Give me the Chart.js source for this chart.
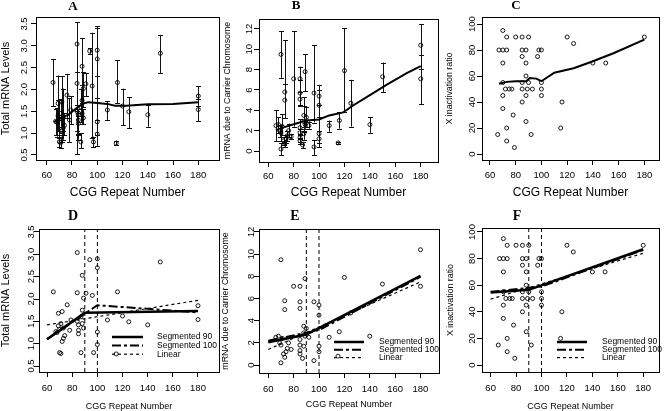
<!DOCTYPE html>
<html><head><meta charset="utf-8">
<script src="https://cdn.jsdelivr.net/npm/chart.js@4.4.1/dist/chart.umd.min.js"></script>
<style>
html,body{margin:0;padding:0;background:#fff;}
body{width:664px;height:411px;overflow:hidden;position:relative;}
canvas{position:absolute;left:0;top:0;}
</style></head><body>
<script>
// ---------- data ----------
const tickX = [60, 80, 100, 120, 140, 160, 180];
const tickTotal = [0.5, 1.0, 1.5, 2.0, 2.5, 3.0, 3.5];
const tickTotalLabels = ['0.5', '1.0', '1.5', '2.0', '2.5', '3.0', '3.5'];
const tickCarrier = [0, 2, 4, 6, 8, 10, 12];
const tickRatio = [0, 20, 40, 60, 80, 100];

// Panel A / D : total mRNA levels
const cggA = [65,67,68,69,69,70,70,71,71,72,72,73,73,74,76,78,79,84,84,84,85,85,85,87,87,88,88,88,89,89,91,94,96,97,100,100,100,100,108,115,116,120,125,140,150,180,180];
const totalMrna = [2.16,1.27,1.25,1.68,1.40,0.80,1.32,0.78,1.45,1.72,1.05,1.12,1.35,1.18,1.87,1.30,1.53,3.04,2.14,1.50,1.42,1.30,1.22,0.80,1.60,2.53,1.75,1.45,2.02,1.35,2.13,2.88,2.08,0.80,2.90,2.70,1.26,0.98,1.53,0.77,2.16,1.62,1.49,1.42,2.83,1.85,1.54];
const totalLo = [1.62,0.95,0.92,1.10,1.05,0.68,0.90,0.65,1.15,1.00,0.80,0.85,1.05,0.95,1.35,0.80,1.20,0.52,1.50,1.05,0.95,0.85,0.98,0.65,1.25,1.20,1.40,1.22,1.60,1.20,1.85,2.82,0.90,0.68,0.95,2.30,0.70,0.70,1.30,0.72,1.68,1.18,1.12,1.15,2.38,1.62,1.28];
const totalHi = [2.70,1.55,1.58,2.32,1.75,0.95,1.75,0.92,1.78,2.30,1.30,1.40,2.02,1.45,2.35,1.80,1.85,3.54,2.40,1.65,1.55,1.40,1.45,1.00,2.00,3.18,2.10,1.70,2.40,1.55,2.38,2.95,3.30,0.92,3.45,3.40,1.80,1.30,1.73,0.83,2.67,2.02,1.82,1.65,3.25,2.07,1.78];

// Panel B / E : mRNA due to carrier chromosome
const cggB = [66,68,69,70,70,70,71,72,73,73,73,74,75,76,78,80,85,85,85,85,85,85,85,87,88,88,88,89,89,90,92,96,96,100,100,100,100,108,115,116,120,125,140,150,180,180];
const carrierMrna = [2.5,2.6,2.0,9.5,0.2,1.8,2.4,1.0,5.8,5.0,0.7,1.2,1.5,2.0,1.4,7.1,7.1,5.7,5.1,2.3,1.8,1.3,1.0,0.6,3.5,2.9,1.7,7.8,2.6,3.3,2.5,5.7,0.4,5.4,4.5,1.7,1.2,2.5,0.8,3.0,7.9,4.7,2.6,7.3,10.4,7.1];
const carrierLo = [1.0,1.8,1.4,7.2,-0.4,1.0,1.6,0.6,3.2,3.2,0.4,0.8,1.0,1.4,1.2,2.4,4.5,4.4,4.5,1.6,1.2,0.9,0.7,0.3,1.9,2.0,1.1,5.9,2.2,2.4,2.2,2.8,-0.4,4.5,3.3,0.8,0.4,1.9,0.7,2.2,3.8,2.4,1.8,5.8,8.1,4.6];
const carrierHi = [4.0,3.3,2.6,11.8,0.8,2.6,3.6,1.4,10.9,6.6,1.0,1.6,2.0,2.7,1.7,11.8,8.3,7.0,5.8,3.1,2.2,1.7,1.3,0.9,5.3,4.4,2.4,9.5,3.0,4.3,2.9,10.4,1.1,6.5,6.0,3.3,2.0,3.0,0.9,3.8,12.1,7.0,3.3,8.7,12.5,9.4];

// Panel C / F : X inactivation ratio
const cggC = [70,67,70,73,73,80,85,90,120,125,180,85,88,98,100,85,97,70,88,140,150,88,70,85,90,100,72,75,77,85,89,93,100,70,88,100,85,116,78,70,88,66,73,92,115,73,79];
const xiRatio = [95,80,80,80,90,90,90,90,90,85,90,80,80,80,80,75,75,70,70,70,70,60,55,55,55,55,50,50,50,50,50,50,50,45,45,45,40,40,30,35,25,15,20,15,20,10,5];

// smoothed curves (top row)
const smoothTotalX = [66,72,77,84,89,93,100,108,114,123,140,160,180];
const smoothTotalY = [1.26,1.36,1.42,1.58,1.68,1.71,1.69,1.67,1.63,1.63,1.66,1.67,1.71];
const smoothCarrierX = [66,74,82,90,100,108,119,127,140,153,169,180];
const smoothCarrierY = [2.05,2.4,2.7,3.0,3.1,3.5,3.8,4.5,5.5,6.5,7.65,8.35];
const smoothRatioX = [67,73,80,88,91,96,100,110,125,139,156,180];
const smoothRatioY = [54,55.5,56,56,58.5,58,56,62.5,66,71,77.5,88];

// fitted models (bottom row)
const breakpoints = [90, 100];
const fitLabels = ['Segmented 90', 'Segmented 100', 'Linear'];
const seg90X = [60, 90, 180];
const seg100X = [60, 100, 180];
const linX = [60, 180];
const seg90Total = [1.10, 1.69, 1.73];
const seg100Total = [1.10, 1.86, 1.70];
const linTotal = [1.42, 1.97];
const seg90Carrier = [2.05, 2.75, 8.05];
const seg100Carrier = [2.2, 3.15, 7.95];
const linCarrier = [1.4, 7.5];
const seg90Ratio = [54.5, 56.5, 87];
const seg100Ratio = [55, 59, 86.5];
const linRatio = [49.5, 84];

// ---------- helpers ----------
const SANS = "'Liberation Sans', Arial, Helvetica, sans-serif";
const SERIF = "'Liberation Serif', 'Times New Roman', serif";
const pts = (xs, ys) => xs.map((x, i) => ({x: x, y: ys[i]}));

function scatterSet(xs, ys) {
  return {type: 'scatter', data: pts(xs, ys), showLine: false, pointRadius: 2, pointHoverRadius: 2,
    pointBorderWidth: 0.9, pointBorderColor: '#000', pointBackgroundColor: 'rgba(0,0,0,0)', order: 1};
}
function lineSet(xs, ys, width, dash, label) {
  return {type: 'scatter', label: label || '', data: pts(xs, ys), showLine: true, pointRadius: 0, pointHoverRadius: 0,
    borderColor: '#000', borderWidth: width, borderDash: dash || [], backgroundColor: '#000', fill: false, order: 0, tension: 0};
}

function makePanel(p) {
  const cv = document.createElement('canvas');
  cv.width = 664; cv.height = 411;
  cv.style.width = '664px'; cv.style.height = '411px';
  document.body.appendChild(cv);

  const panelPlugin = {
    id: 'panel' + p.letter,
    beforeDatasetsDraw(chart) {
      if (!p.err) return;
      const {ctx, chartArea: a} = chart;
      const xs = chart.scales.x, ys = chart.scales.y;
      ctx.save();
      ctx.beginPath(); ctx.rect(a.left, a.top, a.right - a.left, a.bottom - a.top); ctx.clip();
      ctx.strokeStyle = '#111'; ctx.lineWidth = 1;
      p.err.x.forEach((xv, i) => {
        const px = Math.round(xs.getPixelForValue(xv)) + 0.5;
        const y1 = ys.getPixelForValue(p.err.lo[i]);
        const y2 = ys.getPixelForValue(p.err.hi[i]);
        ctx.beginPath();
        ctx.moveTo(px, y1); ctx.lineTo(px, y2);
        ctx.moveTo(px - 2.5, Math.round(y1) + 0.5); ctx.lineTo(px + 2.5, Math.round(y1) + 0.5);
        ctx.moveTo(px - 2.5, Math.round(y2) + 0.5); ctx.lineTo(px + 2.5, Math.round(y2) + 0.5);
        ctx.stroke();
      });
      ctx.restore();
    },
    afterDraw(chart) {
      const {ctx, chartArea: a} = chart;
      const ys = chart.scales.y;
      ctx.save();
      ctx.strokeStyle = '#000'; ctx.lineWidth = 1;
      ctx.strokeRect(Math.round(a.left) + 0.5, Math.round(a.top) + 0.5, Math.round(a.right - a.left), Math.round(a.bottom - a.top));
      ctx.fillStyle = '#000';
      ctx.font = p.tickFont + 'px ' + SANS;
      ctx.textAlign = 'center'; ctx.textBaseline = 'middle';
      p.yTicks.forEach((v, i) => {
        const py = ys.getPixelForValue(v);
        ctx.save();
        ctx.translate(a.left - p.yTickOff, py);
        ctx.rotate(-Math.PI / 2);
        ctx.fillText(p.yTickLabels[i], 0, 0);
        ctx.restore();
      });
      ctx.font = 'bold ' + p.letterSize + 'px ' + SERIF;
      ctx.textAlign = 'center'; ctx.textBaseline = 'middle';
      ctx.fillText(p.letter, p.letterX, p.letterY);
      if (p.legend) {
        const L = p.legend;
        ctx.font = L.font + 'px ' + SANS;
        ctx.textAlign = 'left'; ctx.textBaseline = 'middle';
        chart.data.datasets.forEach(ds => {
          const idx = fitLabels.indexOf(ds.label);
          if (idx < 0) return;
          const yy = L.y + idx * L.dy;
          ctx.save();
          ctx.strokeStyle = '#000'; ctx.lineWidth = ds.borderWidth;
          ctx.setLineDash(ds.borderDash || []);
          ctx.beginPath(); ctx.moveTo(L.x, yy); ctx.lineTo(L.x + L.w, yy); ctx.stroke();
          ctx.restore();
          ctx.fillText(ds.label, L.tx, yy);
        });
      }
      ctx.restore();
    }
  };

  new Chart(cv, {
    type: 'scatter',
    data: {datasets: p.datasets},
    options: {
      responsive: false, animation: false, events: [],
      layout: {padding: {left: p.box.l - p.wy, top: p.box.t, right: 664 - p.box.r, bottom: 411 - p.box.b - p.hx}},
      plugins: {legend: {display: false}, title: {display: false}, tooltip: {enabled: false}},
      scales: {
        x: {
          type: 'linear', position: 'bottom', min: p.xMin, max: p.xMax,
          afterBuildTicks: s => { s.ticks = tickX.map(v => ({value: v})); },
          afterFit: s => { s.height = p.hx; },
          ticks: {color: '#000', font: {family: SANS, size: p.tickFont}, padding: p.xTickPad, maxRotation: 0, autoSkip: false,
                  callback: v => String(v)},
          grid: {drawOnChartArea: false, drawTicks: true, tickLength: 5, color: '#000', lineWidth: 1},
          border: {display: false},
          title: {display: true, text: 'CGG Repeat Number', color: '#000', padding: 0,
                  font: {family: SANS, size: p.xTitleSize, lineHeight: 1}}
        },
        y: {
          type: 'linear', position: 'left', min: p.yMin, max: p.yMax,
          afterBuildTicks: s => { s.ticks = p.yTicks.map(v => ({value: v})); },
          afterFit: s => { s.width = p.wy; },
          ticks: {display: false},
          grid: {drawOnChartArea: false, drawTicks: true, tickLength: 5, color: '#000', lineWidth: 1},
          border: {display: false},
          title: {display: true, text: p.yTitle, color: '#000', padding: 0,
                  font: {family: SANS, size: p.yTitleSize, lineHeight: 1}}
        }
      }
    },
    plugins: [panelPlugin]
  });
}

function fitSets(s90, s100, lin, yMin, yMax) {
  return [
    lineSet([breakpoints[0], breakpoints[0]], [yMin, yMax], 1, [4, 3]),
    lineSet([breakpoints[1], breakpoints[1]], [yMin, yMax], 1, [4, 3]),
    lineSet(seg90X, s90, 2.5, [], fitLabels[0]),
    lineSet(seg100X, s100, 2, [9, 3, 3, 3], fitLabels[1]),
    lineSet(linX, lin, 1.2, [3, 3], fitLabels[2])
  ];
}

// ---------- panels ----------
makePanel({letter: 'A', letterX: 73, letterY: 7, letterSize: 13,
  box: {l: 36, r: 219, t: 17, b: 160}, wy: 36, hx: 39, xTickPad: 4.5, tickFont: 9.5,
  xMin: 51.5, xMax: 196.4, yMin: 0.385, yMax: 3.66, yTicks: tickTotal, yTickLabels: tickTotalLabels, yTickOff: 12,
  yTitle: 'Total mRNA Levels', yTitleSize: 11, xTitleSize: 12,
  err: {x: cggA, lo: totalLo, hi: totalHi},
  datasets: [scatterSet(cggA, totalMrna), lineSet(smoothTotalX, smoothTotalY, 2)]});

makePanel({letter: 'B', letterX: 296, letterY: 6, letterSize: 13,
  box: {l: 259, r: 438, t: 19, b: 162}, wy: 36, hx: 37, xTickPad: 4, tickFont: 9.5,
  xMin: 52.7, xMax: 193.6, yMin: -1.08, yMax: 12.98, yTicks: tickCarrier, yTickLabels: tickCarrier.map(String), yTickOff: 10,
  yTitle: 'mRNA due to Carrier Chromosome', yTitleSize: 8.8, xTitleSize: 12,
  err: {x: cggB, lo: carrierLo, hi: carrierHi},
  datasets: [scatterSet(cggB, carrierMrna), lineSet(smoothCarrierX, smoothCarrierY, 2)]});

makePanel({letter: 'C', letterX: 516, letterY: 6, letterSize: 13,
  box: {l: 482, r: 659, t: 17, b: 160}, wy: 37, hx: 39, xTickPad: 4.5, tickFont: 9.5,
  xMin: 53.8, xMax: 191.4, yMin: -4.6, yMax: 105.4, yTicks: tickRatio, yTickLabels: tickRatio.map(String), yTickOff: 10,
  yTitle: 'X inactivation ratio', yTitleSize: 8.8, xTitleSize: 12,
  datasets: [scatterSet(cggC, xiRatio), lineSet(smoothRatioX, smoothRatioY, 2)]});

makePanel({letter: 'D', letterX: 73, letterY: 216, letterSize: 14,
  box: {l: 39, r: 219, t: 229, b: 372}, wy: 39, hx: 39, xTickPad: 5.5, tickFont: 9.5,
  xMin: 53.6, xMax: 196.7, yMin: 0.366, yMax: 3.567, yTicks: tickTotal, yTickLabels: tickTotalLabels, yTickOff: 8,
  yTitle: 'Total mRNA Levels', yTitleSize: 11, xTitleSize: 9,
  legend: {x: 112, w: 31, tx: 157, y: 337, dy: 8.6, font: 8.5},
  datasets: [scatterSet(cggA, totalMrna)].concat(fitSets(seg90Total, seg100Total, linTotal, 0.366, 3.567))});

makePanel({letter: 'E', letterX: 295, letterY: 216, letterSize: 14,
  box: {l: 259, r: 439, t: 229, b: 373}, wy: 38, hx: 36.5, xTickPad: 5.5, tickFont: 9.5,
  xMin: 52.7, xMax: 194.6, yMin: -0.72, yMax: 12.27, yTicks: tickCarrier, yTickLabels: tickCarrier.map(String), yTickOff: 8,
  yTitle: 'mRNA due to Carrier Chromosome', yTitleSize: 8.8, xTitleSize: 9,
  legend: {x: 334, w: 30, tx: 379, y: 342, dy: 7.8, font: 8.5},
  datasets: [scatterSet(cggB, carrierMrna)].concat(fitSets(seg90Carrier, seg100Carrier, linCarrier, -0.72, 12.27))});

makePanel({letter: 'F', letterX: 517, letterY: 216, letterSize: 14,
  box: {l: 482, r: 659, t: 228, b: 372}, wy: 36, hx: 39, xTickPad: 5.5, tickFont: 9.5,
  xMin: 53.2, xMax: 192.4, yMin: -5.26, yMax: 103, yTicks: tickRatio, yTickLabels: tickRatio.map(String), yTickOff: 10,
  yTitle: 'X inactivation ratio', yTitleSize: 8.8, xTitleSize: 9,
  legend: {x: 557, w: 30, tx: 602, y: 342, dy: 7.8, font: 8.5},
  datasets: [scatterSet(cggC, xiRatio)].concat(fitSets(seg90Ratio, seg100Ratio, linRatio, -5.26, 103))});
</script>
</body></html>
